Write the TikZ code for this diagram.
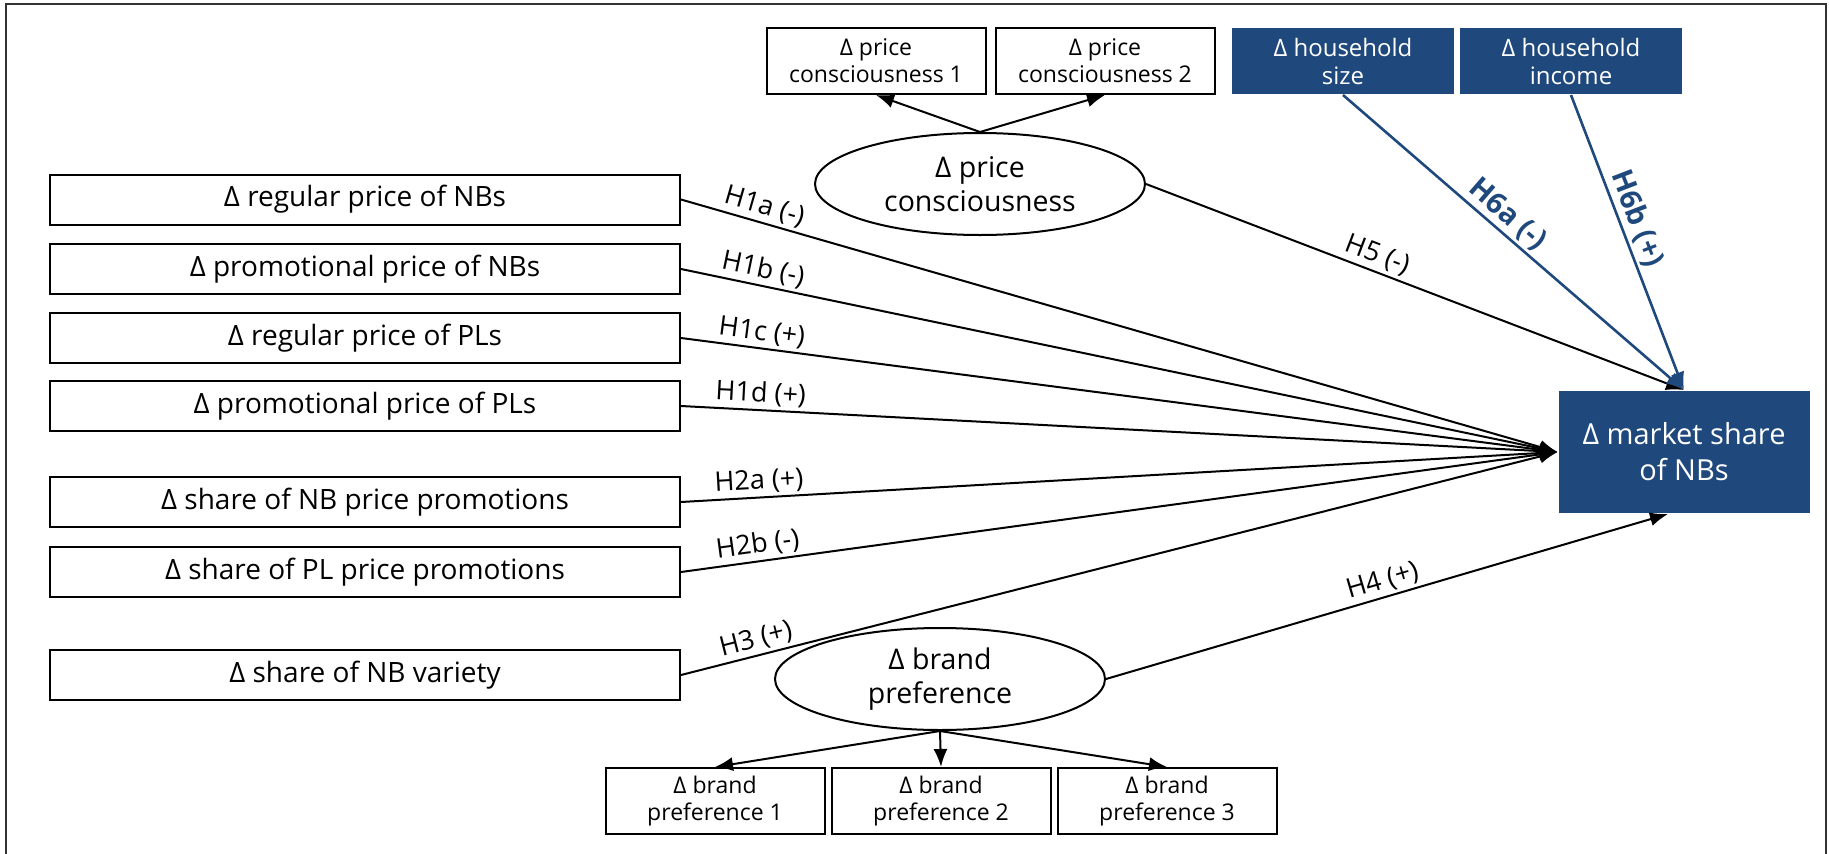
\documentclass[tikz,border=0pt]{standalone}
\usepackage{fontspec}
\setmainfont{Open Sans}
\usepackage{xcolor}
\usepackage{tikz}
\usetikzlibrary{shapes,shapes.geometric,arrows.meta}
\definecolor{nbblue}{RGB}{31,73,125}

\begin{document}
\begin{tikzpicture}
[x=1pt,y=-1pt,line width=2pt,
every node/.style={inner sep=2pt,align=center},
box/.style={draw,minimum width=630pt,minimum height=50pt,font=\fontsize{28}{34}\selectfont},
item/.style={draw,minimum width=219pt,minimum height=66pt,font=\fontsize{23}{27}\selectfont},
darkbox/.style={fill=nbblue,text=white,minimum width=222pt,minimum height=66pt,font=\fontsize{24}{28}\selectfont},
latent/.style={draw,ellipse,minimum width=330pt,minimum height=102pt,inner sep=0pt,font=\fontsize{28.5}{34}\selectfont},
hyp/.style={-{Latex[length=18pt,width=14pt]}},
lbl/.style={above,sloped,inner sep=3pt,font=\fontsize{27}{32}\selectfont}]
\useasboundingbox (0,0) rectangle (1829,854);
\draw[line width=2.5pt,black!80] (6,854) -- (6,4) -- (1826,4) -- (1826,854);

% left side
\node[box] (r1) at (365,199.5) {Δ regular price of NBs};
\node[box] (r2) at (365,269) {Δ promotional price of NBs};
\node[box] (r3) at (365,338) {Δ regular price of PLs};
\node[box] (r4) at (365,406) {Δ promotional price of PLs};
\node[box] (r5) at (365,502) {Δ share of NB price promotions};
\node[box] (r6) at (365,572) {Δ share of PL price promotions};
\node[box] (r7) at (365,675) {Δ share of NB variety};

% top
\node[item] (pc1) at (876,61) {Δ price\\consciousness 1};
\node[item] (pc2) at (1105,61) {Δ price\\consciousness 2};
\node[darkbox] (hs) at (1343,61) {Δ household\\size};
\node[darkbox] (hi) at (1571,61) {Δ household\\income};
\node[latent] (pc) at (980,184) {Δ price\\consciousness};

% bottom
\node[latent] (bp) at (940,679) {Δ brand\\preference};
\node[item] (bp1) at (715,801) {Δ brand\\preference 1};
\node[item] (bp2) at (941,801) {Δ brand\\preference 2};
\node[item] (bp3) at (1167,801) {Δ brand\\preference 3};

\node[darkbox,minimum width=251pt,minimum height=122pt,font=\fontsize{29}{36}\selectfont] (ms) at (1684,452) {Δ market share\\of NBs};

\path
\foreach \src/\txt in {r1/{H1a (-)},r2/{H1b (-)},r3/{H1c (+)},r4/{H1d (+)},r5/{H2a (+)},r6/{H2b (-)},r7/{H3 (+)}}
{
	(\src.east) edge[hyp] node[lbl,pos=.09] {\txt} (ms.west)
};
\path
\foreach \startNode/\endNode in {pc/pc1,pc/pc2}
{
	(\startNode.north) edge[hyp] (\endNode.south)
}
\foreach \endNode in {bp1,bp2,bp3}
{
	(bp.south) edge[hyp] (\endNode.north)
};
\draw[hyp] (pc.east) -- node[lbl,pos=.42] {H5 (-)} (ms.north);
\draw[hyp] (bp.east) -- node[lbl,pos=.5] {H4 (+)} ([xshift=-16pt]ms.south);
\draw[hyp,nbblue,line width=2.6pt] (hs.south) -- node[lbl,pos=.45,text=nbblue,font=\fontsize{29}{34}\selectfont\bfseries] {H6a (-)} (ms.north);
\draw[hyp,nbblue,line width=2.6pt] (hi.south) -- node[lbl,pos=.44,text=nbblue,font=\fontsize{29}{34}\selectfont\bfseries] {H6b (+)} (ms.north);
\end{tikzpicture}
\end{document}
